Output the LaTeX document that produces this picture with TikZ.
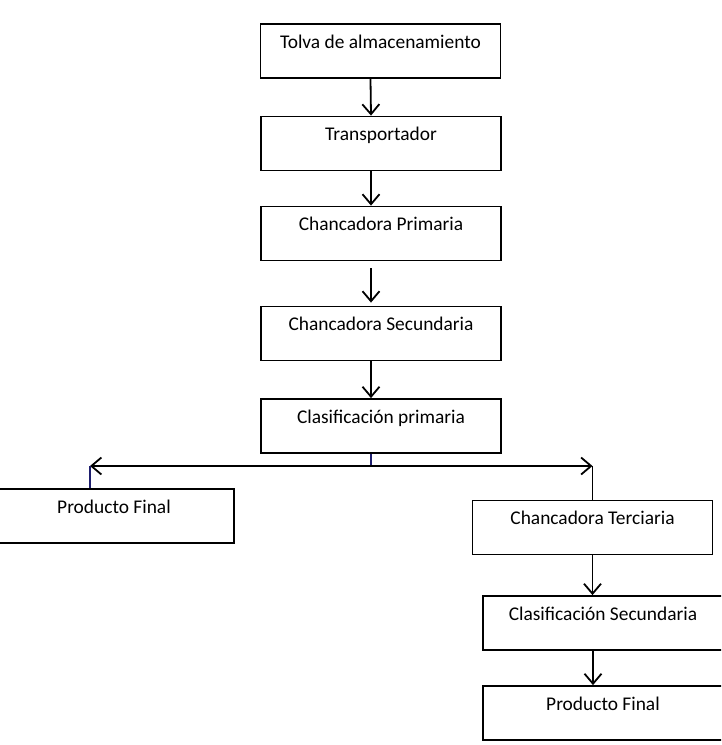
\documentclass[tikz,border=0pt]{standalone}
\usepackage{fontspec}
\setmainfont{Carlito}
\usetikzlibrary{arrows.meta}
\definecolor{azul}{RGB}{30,30,110}
\begin{document}
\begin{tikzpicture}[x=1pt,y=-1pt,
  caja/.style={draw, line width=1.8pt, inner xsep=0pt, inner ysep=0pt, minimum width=240pt,
    text height=24pt, text depth=30pt, font=\fontsize{19.4}{22}\selectfont},
  flecha/.style={line width=1.8pt, -{Straight Barb[length=10pt,width=17pt,line width=1.8pt]}},
  doble/.style={line width=1.8pt, {Straight Barb[length=10pt,width=17pt,line width=1.8pt]}-{Straight Barb[length=10pt,width=17pt,line width=1.8pt]}}]
\path[use as bounding box, clip] (0,0) rectangle (721,745);
\node[caja] (tolva) at (380.5,51){Tolva de almacenamiento};
\node[caja] (transp) at (381,143.5){Transportador};
\node[caja] (prim) at (381,233.5){Chancadora Primaria};
\node[caja] (secu) at (381,333.5){Chancadora Secundaria};
\node[caja] (clasif1) at (381,426){Clasificación primaria};
\node[caja] (final1) at (114,516){Producto Final};
\node[caja] (terc) at (592.5,527.5){Chancadora Terciaria};
\node[caja] (clasif2) at (603,623){Clasificación Secundaria};
\node[caja] (final2) at (603,713){Producto Final};
\draw[flecha]([xshift=-10pt]tolva.south) -- ([xshift=-10pt]transp.north);
\draw[flecha]([xshift=-10pt]transp.south) -- ([xshift=-10pt]prim.north);
\draw[flecha, shorten <=7pt, shorten >=3pt]([xshift=-10pt]prim.south) -- ([xshift=-10pt]secu.north);
\draw[flecha]([xshift=-10pt]secu.south) -- ([xshift=-10pt]clasif1.north);
% reparto a los dos ramales
\coordinate (izq) at (90,466);
\coordinate (der) at (592.5,466);
\draw[line width=1.8pt, azul]([xshift=-10pt]clasif1.south) -- ([xshift=-10pt]clasif1.south |- izq);
\draw[doble](izq) -- (der);
\draw[line width=1.8pt, azul](izq) -- (izq |- final1.north);
\draw[line width=1.8pt](der) -- (terc.north);
\draw[flecha](terc.south) -- (terc.south |- clasif2.north);
\draw[flecha]([xshift=-10pt]clasif2.south) -- ([xshift=-10pt]final2.north);
\end{tikzpicture}
\end{document}
